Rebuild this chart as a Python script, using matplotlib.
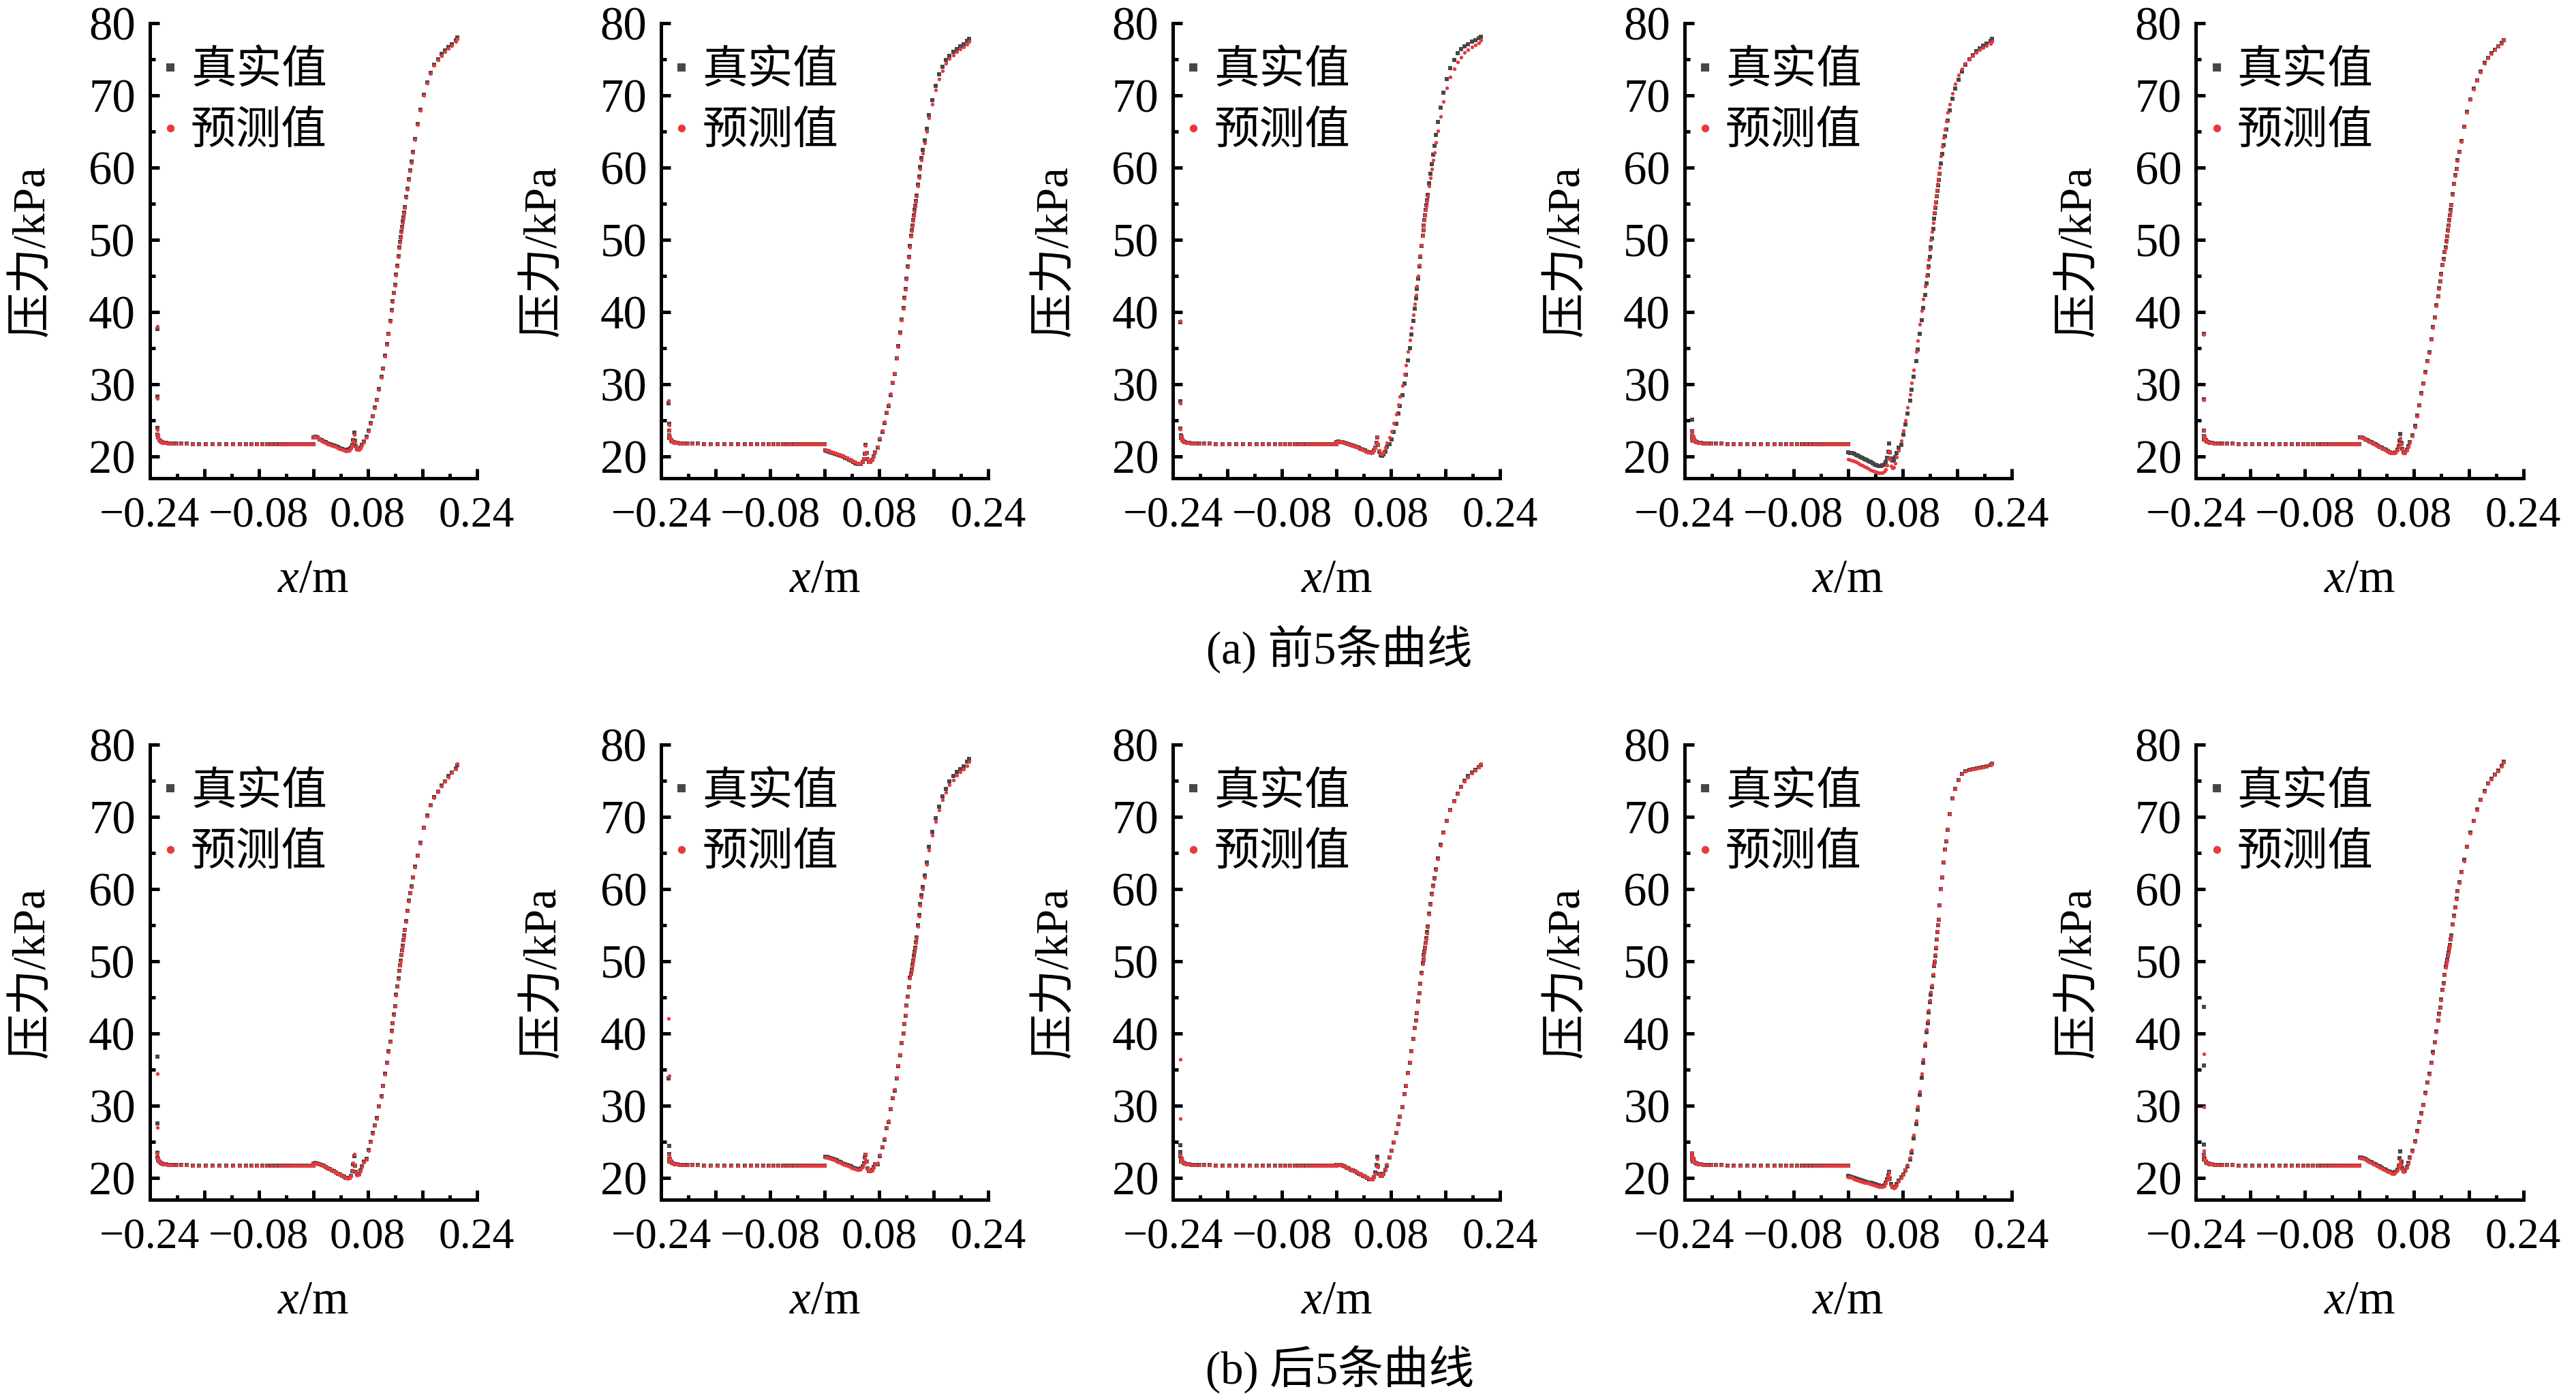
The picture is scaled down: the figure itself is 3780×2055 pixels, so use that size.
import matplotlib
matplotlib.use("Agg")
import matplotlib.pyplot as plt
from matplotlib.ticker import FixedLocator, FixedFormatter, MultipleLocator

plt.rcParams['font.family'] = ['Liberation Serif', 'Noto Sans CJK SC']
plt.rcParams['mathtext.fontset'] = 'custom'
plt.rcParams['mathtext.it'] = 'Liberation Serif:italic'
plt.rcParams['mathtext.rm'] = 'Liberation Serif'

# ---- data: pressure along x (shared sampling nodes) ----
X_INLET = [-0.2289, -0.2288, -0.2287, -0.2285, -0.2281]
X_FLAT = [-0.2272, -0.2258, -0.2240, -0.2218, -0.2192, -0.2160,
          -0.2120, -0.2070, -0.2010, -0.1940, -0.1860, -0.1770, -0.1675, -0.1575, -0.1475, -0.1375,
          -0.1275, -0.1175, -0.1080, -0.0990, -0.0905, -0.0825, -0.0750, -0.0680, -0.0615, -0.0555,
          -0.0500, -0.0445, -0.0395, -0.0350, -0.0310, -0.0272, -0.0237, -0.0204, -0.0173, -0.0144,
          -0.0117, -0.0092, -0.0068, -0.0045, -0.0022, 0.0000]
X_MID = [0.0002, 0.0030, 0.0060, 0.0090, 0.0120, 0.0150, 0.0180, 0.0210, 0.0240, 0.0270,
         0.0300, 0.0330, 0.0360, 0.0390, 0.0420, 0.0450, 0.0478, 0.0505, 0.0530, 0.0552,
         0.0572, 0.0588, 0.0600, 0.0612, 0.0628, 0.0648, 0.0670, 0.0692, 0.0715, 0.0740]
X_RISE = [0.0779, 0.0811, 0.0844, 0.0876, 0.0908, 0.0934, 0.0967, 0.0999, 0.1022, 0.1054,
          0.1080, 0.1103, 0.1129, 0.1152, 0.1168, 0.1184, 0.1200, 0.1217, 0.1233, 0.1249,
          0.1265, 0.1275, 0.1284, 0.1294, 0.1304, 0.1314, 0.1323, 0.1333, 0.1343, 0.1363,
          0.1382, 0.1401, 0.1421, 0.1440, 0.1463, 0.1492, 0.1531, 0.1573, 0.1622, 0.1674,
          0.1726, 0.1778, 0.1830, 0.1882, 0.1933, 0.1985, 0.2037, 0.2089, 0.2115]
X_NODES = X_INLET + X_FLAT + X_MID + X_RISE

# flat stretch, same reading in every panel
FLAT_Y = [22.6, 22.3, 22.1, 21.95, 21.9, 21.85, 21.8, 21.8, 21.75, 21.75, 21.75,
          21.7, 21.7, 21.7, 21.7, 21.7, 21.7, 21.7, 21.7, 21.7, 21.7,
          21.7, 21.7, 21.7, 21.7, 21.7, 21.7, 21.7, 21.7, 21.7, 21.7,
          21.7, 21.7, 21.7, 21.7, 21.7, 21.7, 21.7, 21.7, 21.7, 21.7, 21.7]

true_1 = [37.6, 28.3, 24.0, 23.0, 22.8] + FLAT_Y + [
    22.6, 22.7, 22.6, 22.4, 22.3, 22.1, 22.0, 21.8, 21.7, 21.6,
    21.5, 21.4, 21.3, 21.15, 21.05, 20.95, 20.9, 20.9, 21.0, 21.2,
    21.6, 22.3, 23.3, 22.2, 21.4, 21.0, 21.0, 21.2, 21.6, 22.1,
    22.7, 23.6, 24.6, 25.6, 26.8, 27.8, 29.3, 31.0, 32.2, 34.0,
    35.6, 37.0, 38.8, 40.3, 41.5, 42.6, 43.8, 45.2, 46.4, 47.7,
    49.0, 49.7, 50.4, 51.1, 51.8, 52.5, 53.1, 53.8, 54.5, 55.9,
    57.1, 58.4, 59.6, 60.8, 62.2, 64.0, 66.0, 68.0, 70.1, 71.8,
    73.1, 74.2, 75.0, 75.7, 76.2, 76.7, 77.1, 77.6, 78.0]
pred_1 = [38.0, 28.0, 23.7, 23.0, 22.8] + FLAT_Y + [
    22.6, 22.7, 22.6, 22.4, 22.2, 22.0, 21.9, 21.7, 21.6, 21.5,
    21.4, 21.3, 21.15, 21.0, 20.9, 20.8, 20.75, 20.75, 20.85, 21.1,
    21.5, 22.2, 23.0, 22.0, 21.3, 20.9, 20.9, 21.1, 21.5, 22.0,
    22.6, 23.5, 24.5, 25.6, 26.7, 27.8, 29.2, 30.9, 32.2, 33.9,
    35.5, 37.0, 38.7, 40.2, 41.4, 42.6, 43.7, 45.1, 46.3, 47.6,
    48.9, 49.6, 50.3, 51.0, 51.7, 52.4, 53.0, 53.7, 54.4, 55.8,
    57.0, 58.3, 59.5, 60.7, 62.1, 63.9, 65.9, 67.9, 70.0, 71.7,
    73.0, 74.1, 74.9, 75.5, 76.0, 76.5, 76.9, 77.4, 77.8]

true_2 = [27.4, 24.5, 23.6, 22.9, 22.5] + FLAT_Y + [
    20.8, 20.75, 20.7, 20.6, 20.5, 20.4, 20.3, 20.2, 20.1, 20.0,
    19.85, 19.7, 19.55, 19.4, 19.25, 19.1, 19.0, 18.95, 19.0, 19.2,
    19.6, 20.4, 21.6, 20.5, 19.6, 19.2, 19.2, 19.5, 20.0, 20.6,
    21.2, 22.4, 23.4, 24.6, 26.0, 27.0, 28.5, 30.2, 31.4, 33.6,
    35.3, 37.2, 39.0, 40.6, 42.0, 43.2, 44.6, 46.3, 47.6, 49.1,
    50.6, 51.3, 52.0, 52.7, 53.4, 54.1, 54.7, 55.4, 56.1, 57.6,
    58.8, 60.1, 61.3, 62.4, 63.8, 65.4, 67.3, 69.3, 71.3, 72.9,
    74.0, 74.9, 75.5, 76.0, 76.4, 76.8, 77.1, 77.5, 77.8]
pred_2 = [27.7, 24.3, 23.6, 22.9, 22.5] + FLAT_Y + [
    20.9, 20.85, 20.8, 20.7, 20.6, 20.5, 20.4, 20.3, 20.2, 20.1,
    19.95, 19.8, 19.65, 19.5, 19.35, 19.2, 19.1, 19.05, 19.1, 19.3,
    19.7, 20.5, 21.5, 20.5, 19.6, 19.2, 19.2, 19.5, 20.0, 20.6,
    21.3, 22.5, 23.6, 24.8, 26.1, 27.2, 28.7, 30.3, 31.5, 33.6,
    35.2, 37.1, 38.9, 40.5, 41.9, 43.1, 44.5, 46.2, 47.5, 49.0,
    50.5, 51.2, 51.9, 52.6, 53.3, 54.0, 54.6, 55.3, 56.0, 57.4,
    58.6, 59.8, 61.0, 62.0, 63.4, 65.0, 66.9, 68.8, 70.7, 72.3,
    73.4, 74.4, 75.1, 75.6, 76.0, 76.4, 76.7, 77.1, 77.4]

true_3 = [38.6, 27.6, 23.9, 22.9, 22.5] + FLAT_Y + [
    22.0, 22.05, 22.0, 21.95, 21.9, 21.8, 21.7, 21.6, 21.5, 21.4,
    21.3, 21.2, 21.05, 20.95, 20.8, 20.7, 20.6, 20.55, 20.6, 20.8,
    21.2, 21.9, 22.6, 21.6, 20.7, 20.2, 20.1, 20.3, 20.7, 21.3,
    21.7, 22.4, 23.4, 24.5, 25.9, 27.0, 28.5, 30.1, 31.3, 33.3,
    35.0, 36.9, 38.8, 40.5, 41.9, 43.2, 44.6, 46.3, 47.6, 49.1,
    50.6, 51.3, 52.0, 52.7, 53.4, 54.1, 54.8, 55.5, 56.2, 57.8,
    59.1, 60.5, 61.8, 63.0, 64.5, 66.3, 68.3, 70.4, 72.3, 73.8,
    74.9, 75.8, 76.4, 76.8, 77.1, 77.4, 77.6, 77.9, 78.1]
pred_3 = [38.8, 27.4, 23.8, 22.8, 22.5] + FLAT_Y + [
    22.0, 22.1, 22.05, 22.0, 21.9, 21.8, 21.7, 21.6, 21.5, 21.4,
    21.3, 21.15, 21.0, 20.9, 20.75, 20.65, 20.55, 20.5, 20.55, 20.8,
    21.2, 21.9, 22.7, 21.7, 20.8, 20.4, 20.4, 20.7, 21.2, 21.9,
    22.6, 23.5, 24.6, 25.8, 27.2, 28.3, 29.8, 31.4, 32.6, 34.5,
    36.1, 37.8, 39.6, 41.1, 42.4, 43.6, 45.0, 46.5, 47.8, 49.2,
    50.6, 51.3, 52.0, 52.7, 53.4, 54.1, 54.7, 55.4, 56.0, 57.4,
    58.6, 59.8, 61.0, 62.1, 63.5, 65.1, 67.1, 69.1, 71.0, 72.5,
    73.7, 74.6, 75.3, 75.9, 76.3, 76.7, 77.0, 77.3, 77.6]

true_4 = [25.1, 23.5, 22.8, 22.4, 22.2] + FLAT_Y + [
    20.6, 20.5, 20.45, 20.35, 20.2, 20.1, 19.95, 19.8, 19.65, 19.5,
    19.35, 19.2, 19.05, 18.9, 18.8, 18.7, 18.7, 18.75, 18.9, 19.2,
    19.8, 20.7, 21.8, 20.6, 19.7, 19.4, 19.5, 19.9, 20.5, 21.2,
    21.6, 23.0, 24.4, 25.9, 27.7, 29.2, 31.0, 33.2, 34.8, 37.0,
    38.9, 40.6, 42.4, 44.0, 45.1, 46.3, 47.6, 49.0, 50.2, 51.5,
    52.9, 53.7, 54.4, 55.2, 56.0, 56.8, 57.5, 58.3, 59.1, 60.6,
    61.9, 63.1, 64.3, 65.3, 66.5, 67.9, 69.5, 70.9, 72.2, 73.3,
    74.2, 75.0, 75.6, 76.1, 76.5, 76.9, 77.2, 77.5, 77.8]
pred_4 = [23.5, 23.3, 22.8, 22.4, 22.2] + FLAT_Y + [
    19.6, 19.5, 19.45, 19.35, 19.2, 19.05, 18.9, 18.75, 18.6, 18.45,
    18.3, 18.15, 18.0, 17.9, 17.8, 17.7, 17.7, 17.75, 17.9, 18.2,
    18.8, 19.7, 20.7, 19.6, 18.7, 18.4, 18.5, 19.1, 19.9, 20.8,
    22.2, 23.6, 25.0, 26.8, 28.6, 30.2, 32.0, 34.5, 36.0, 38.3,
    40.2, 41.8, 43.6, 45.0, 46.1, 47.3, 48.7, 50.0, 51.1, 52.4,
    53.8, 54.6, 55.3, 56.1, 56.9, 57.7, 58.4, 59.2, 60.0, 61.6,
    62.9, 64.1, 65.3, 66.4, 67.6, 68.8, 70.3, 71.6, 72.8, 73.7,
    74.4, 75.0, 75.5, 75.9, 76.3, 76.6, 76.9, 77.2, 77.4]

true_5 = [37.0, 27.9, 23.6, 22.8, 22.4] + FLAT_Y + [
    22.6, 22.6, 22.5, 22.4, 22.25, 22.1, 21.95, 21.8, 21.65, 21.5,
    21.35, 21.2, 21.05, 20.9, 20.75, 20.6, 20.5, 20.5, 20.6, 20.9,
    21.4, 22.2, 23.1, 21.9, 21.0, 20.6, 20.6, 20.9, 21.4, 22.0,
    22.9, 24.2, 25.7, 27.1, 28.8, 30.1, 31.7, 33.2, 34.4, 36.2,
    37.9, 39.2, 40.9, 42.2, 43.3, 44.2, 45.3, 46.5, 47.4, 48.3,
    49.0, 49.8, 50.5, 51.3, 52.0, 52.7, 53.4, 54.1, 54.8, 56.3,
    57.7, 59.0, 59.8, 61.0, 62.2, 63.7, 65.7, 67.7, 69.4, 70.9,
    72.1, 73.3, 74.5, 75.2, 75.8, 76.3, 76.8, 77.3, 77.6]
pred_5 = [36.9, 27.8, 23.6, 22.8, 22.4] + FLAT_Y + [
    22.6, 22.6, 22.5, 22.35, 22.2, 22.05, 21.9, 21.75, 21.6, 21.45,
    21.3, 21.15, 21.0, 20.85, 20.7, 20.55, 20.45, 20.45, 20.55, 20.8,
    21.3, 21.9, 22.5, 21.7, 20.9, 20.5, 20.5, 20.8, 21.3, 21.9,
    22.8, 24.1, 25.6, 27.1, 28.7, 30.1, 31.6, 33.2, 34.3, 36.2,
    37.8, 39.2, 40.8, 42.2, 43.2, 44.2, 45.2, 46.5, 47.3, 48.3,
    48.9, 49.7, 50.5, 51.2, 52.0, 52.6, 53.4, 54.0, 54.8, 56.2,
    57.7, 58.9, 59.8, 60.9, 62.2, 63.6, 65.7, 67.6, 69.4, 70.8,
    72.1, 73.2, 74.4, 75.2, 75.7, 76.3, 76.8, 77.2, 77.6]

true_6 = [36.8, 27.5, 23.5, 22.8, 22.4] + FLAT_Y + [
    22.0, 22.05, 22.0, 21.9, 21.8, 21.65, 21.5, 21.35, 21.2, 21.05,
    20.9, 20.75, 20.6, 20.45, 20.3, 20.15, 20.0, 19.95, 20.0, 20.3,
    20.9, 21.9, 23.0, 21.7, 20.8, 20.5, 20.6, 21.0, 21.6, 22.3,
    22.6, 23.9, 25.0, 26.2, 27.3, 28.3, 29.9, 31.3, 32.7, 34.4,
    35.9, 37.5, 38.9, 40.4, 41.4, 42.6, 43.8, 45.4, 46.5, 47.6,
    48.7, 49.4, 50.1, 50.8, 51.5, 52.2, 52.9, 53.6, 54.3, 55.6,
    57.0, 58.4, 59.4, 60.4, 61.6, 63.1, 64.6, 66.4, 68.5, 70.2,
    71.6, 72.7, 73.5, 74.3, 74.9, 75.6, 76.1, 76.7, 77.2]
pred_6 = [34.4, 27.0, 23.4, 22.7, 22.4] + FLAT_Y + [
    22.0, 22.05, 22.0, 21.9, 21.8, 21.65, 21.5, 21.35, 21.2, 21.05,
    20.9, 20.75, 20.6, 20.45, 20.3, 20.15, 20.0, 19.9, 19.95, 20.3,
    21.0, 22.1, 23.3, 21.8, 20.8, 20.4, 20.5, 20.9, 21.5, 22.2,
    22.5, 23.8, 25.0, 26.1, 27.3, 28.2, 29.9, 31.2, 32.7, 34.3,
    35.9, 37.4, 38.9, 40.3, 41.4, 42.5, 43.8, 45.3, 46.5, 47.5,
    48.7, 49.4, 50.0, 50.8, 51.5, 52.1, 52.9, 53.5, 54.3, 55.5,
    57.0, 58.3, 59.4, 60.3, 61.6, 63.0, 64.6, 66.3, 68.5, 70.1,
    71.6, 72.6, 73.5, 74.2, 74.9, 75.5, 76.1, 76.6, 77.3]

true_7 = [33.8, 24.4, 23.3, 22.6, 22.3] + FLAT_Y + [
    22.9, 22.9, 22.8, 22.7, 22.6, 22.5, 22.4, 22.3, 22.15, 22.0,
    21.9, 21.8, 21.65, 21.55, 21.45, 21.35, 21.25, 21.2, 21.3, 21.6,
    22.1, 22.8, 23.2, 22.3, 21.3, 20.95, 20.95, 21.1, 21.5, 21.9,
    21.9, 23.0, 24.2, 25.3, 26.9, 27.7, 29.5, 31.0, 32.1, 33.8,
    35.5, 37.0, 38.7, 40.0, 41.3, 42.4, 43.9, 45.1, 46.4, 47.7,
    48.3, 48.9, 49.5, 50.1, 50.7, 51.3, 51.9, 52.6, 53.3, 55.0,
    56.4, 57.9, 59.1, 60.3, 61.9, 63.7, 65.8, 67.9, 69.8, 71.4,
    72.8, 73.9, 74.9, 75.6, 76.2, 76.6, 77.0, 77.6, 78.0]
pred_7 = [42.1, 34.1, 23.2, 22.6, 22.3] + FLAT_Y + [
    22.8, 22.8, 22.7, 22.6, 22.5, 22.4, 22.3, 22.2, 22.05, 21.9,
    21.8, 21.7, 21.55, 21.45, 21.35, 21.25, 21.15, 21.1, 21.2, 21.5,
    22.0, 22.7, 23.3, 22.3, 21.3, 20.9, 20.9, 21.05, 21.45, 21.9,
    22.1, 23.2, 24.3, 25.5, 27.0, 27.9, 29.6, 31.1, 32.3, 33.9,
    35.6, 37.1, 38.8, 40.1, 41.4, 42.5, 43.9, 45.1, 46.4, 47.6,
    48.2, 48.8, 49.4, 50.0, 50.6, 51.2, 51.8, 52.5, 53.2, 54.8,
    56.2, 57.7, 58.9, 60.0, 61.6, 63.4, 65.4, 67.4, 69.3, 70.9,
    72.3, 73.4, 74.4, 75.1, 75.7, 76.2, 76.6, 77.1, 77.6]

true_8 = [24.5, 23.6, 23.0, 22.6, 22.3] + FLAT_Y + [
    21.8, 21.8, 21.75, 21.65, 21.55, 21.4, 21.3, 21.15, 21.0, 20.9,
    20.75, 20.6, 20.45, 20.3, 20.15, 20.0, 19.85, 19.8, 19.85, 20.1,
    20.7, 21.8, 22.9, 21.6, 20.6, 20.3, 20.3, 20.6, 21.1, 21.7,
    22.8, 23.8, 24.9, 26.2, 27.4, 28.5, 29.8, 31.6, 32.7, 34.5,
    35.9, 37.5, 39.2, 40.7, 41.8, 42.8, 44.4, 45.6, 46.9, 48.4,
    49.7, 50.2, 50.8, 51.3, 51.9, 52.5, 53.2, 54.0, 54.8, 56.6,
    57.9, 59.3, 60.5, 61.5, 62.7, 64.2, 66.1, 67.8, 69.4, 70.9,
    72.2, 73.2, 74.1, 75.0, 75.6, 76.1, 76.5, 76.9, 77.2]
pred_8 = [36.4, 28.2, 23.2, 22.6, 22.3] + FLAT_Y + [
    21.8, 21.85, 21.8, 21.7, 21.6, 21.45, 21.35, 21.2, 21.05, 20.95,
    20.8, 20.65, 20.5, 20.35, 20.2, 20.05, 19.9, 19.8, 19.85, 20.1,
    20.6, 21.6, 22.6, 21.5, 20.6, 20.3, 20.3, 20.6, 21.2, 21.9,
    22.9, 23.9, 25.0, 26.3, 27.5, 28.6, 29.9, 31.6, 32.8, 34.5,
    36.0, 37.5, 39.2, 40.7, 41.8, 42.9, 44.4, 45.6, 46.9, 48.3,
    49.6, 50.2, 50.7, 51.3, 51.9, 52.5, 53.1, 53.9, 54.7, 56.5,
    57.8, 59.2, 60.4, 61.4, 62.6, 64.1, 66.0, 67.8, 69.4, 70.9,
    72.2, 73.2, 74.1, 74.9, 75.5, 76.0, 76.4, 76.9, 77.3]

true_9 = [23.4, 23.0, 22.7, 22.5, 22.3] + FLAT_Y + [
    20.3, 20.2, 20.1, 20.0, 19.9, 19.8, 19.7, 19.6, 19.5, 19.45,
    19.35, 19.3, 19.2, 19.1, 19.05, 18.95, 18.9, 18.9, 19.0, 19.3,
    19.8, 20.4, 20.8, 19.9, 19.1, 18.8, 18.7, 18.8, 19.1, 19.6,
    20.1, 20.5, 21.0, 21.6, 22.5, 23.5, 25.5, 27.4, 29.4, 31.5,
    33.9, 35.9, 38.3, 40.2, 41.4, 42.9, 44.3, 45.4, 46.4, 48.0,
    49.3, 49.9, 50.7, 51.8, 53.0, 54.0, 55.0, 55.7, 57.7, 60.0,
    61.6, 63.7, 65.5, 66.6, 68.2, 70.4, 72.5, 73.9, 75.1, 75.9,
    76.3, 76.5, 76.6, 76.7, 76.8, 76.9, 77.0, 77.2, 77.3]
pred_9 = [23.5, 23.0, 22.7, 22.5, 22.3] + FLAT_Y + [
    20.1, 20.05, 19.95, 19.85, 19.75, 19.65, 19.55, 19.45, 19.35, 19.3,
    19.2, 19.1, 19.05, 18.95, 18.9, 18.8, 18.75, 18.75, 18.85, 19.2,
    19.7, 20.3, 20.7, 19.8, 19.0, 18.7, 18.6, 18.7, 19.0, 19.5,
    20.0, 20.5, 21.1, 21.8, 22.8, 23.9, 25.9, 27.9, 29.9, 32.0,
    34.4, 36.4, 38.7, 40.6, 41.8, 43.2, 44.6, 45.7, 46.7, 48.2,
    49.5, 50.1, 50.9, 52.0, 53.1, 54.1, 55.1, 55.8, 57.7, 60.0,
    61.7, 63.8, 65.5, 66.7, 68.3, 70.4, 72.5, 73.9, 75.1, 75.9,
    76.3, 76.5, 76.6, 76.7, 76.8, 76.9, 77.0, 77.2, 77.3]

true_10 = [43.7, 35.6, 24.6, 23.2, 22.5] + FLAT_Y + [
    22.8, 22.8, 22.7, 22.6, 22.45, 22.3, 22.15, 22.0, 21.85, 21.7,
    21.55, 21.4, 21.25, 21.1, 20.95, 20.8, 20.7, 20.7, 20.8, 21.1,
    21.7, 22.7, 23.7, 22.3, 21.3, 20.9, 21.0, 21.5, 22.1, 22.8,
    23.8, 25.1, 26.5, 27.7, 29.0, 30.1, 31.8, 33.2, 34.4, 35.9,
    37.4, 38.8, 40.3, 41.8, 42.7, 43.6, 44.7, 46.0, 47.0, 48.1,
    49.2, 49.7, 50.2, 50.7, 51.2, 51.8, 52.3, 53.0, 53.6, 55.1,
    56.3, 57.4, 58.7, 59.7, 60.9, 62.3, 64.0, 65.8, 67.8, 69.4,
    71.0, 72.3, 73.6, 74.6, 75.3, 75.8, 76.4, 77.1, 77.6]
pred_10 = [37.2, 29.8, 23.8, 23.2, 22.5] + FLAT_Y + [
    22.7, 22.7, 22.6, 22.5, 22.35, 22.2, 22.05, 21.9, 21.75, 21.6,
    21.45, 21.3, 21.15, 21.0, 20.85, 20.7, 20.6, 20.6, 20.7, 21.0,
    21.5, 22.0, 22.4, 21.8, 21.1, 20.8, 20.9, 21.4, 22.0, 22.7,
    23.7, 25.0, 26.4, 27.7, 28.9, 30.1, 31.7, 33.2, 34.3, 35.9,
    37.3, 38.8, 40.2, 41.8, 42.6, 43.6, 44.6, 46.0, 46.9, 48.1,
    49.1, 49.7, 50.1, 50.7, 51.1, 51.8, 52.2, 53.0, 53.5, 55.1,
    56.2, 57.4, 58.6, 59.7, 60.8, 62.3, 63.9, 65.8, 67.7, 69.4,
    70.9, 72.3, 73.5, 74.6, 75.2, 75.8, 76.3, 77.0, 77.5]

TRUE = [true_1, true_2, true_3, true_4, true_5, true_6, true_7, true_8, true_9, true_10]
PRED = [pred_1, pred_2, pred_3, pred_4, pred_5, pred_6, pred_7, pred_8, pred_9, pred_10]

XTICKS = [-0.24, -0.16, -0.08, 0.0, 0.08, 0.16, 0.24]
XTICK_LABELS = ['\u22120.24', '', '\u22120.08', '', '0.08', '', '0.24']
YTICKS = [20, 30, 40, 50, 60, 70, 80]
CAPTIONS = ['(a) 前5条曲线', '(b) 后5条曲线']

GREY = '#474747'
RED = '#e8393d'
FS = 16

fig = plt.figure(figsize=(12.6, 6.85), dpi=300)

for i in range(10):
    row, col = divmod(i, 5)
    left = 0.0581 + col * 0.1986
    bottom = 0.6585 if row == 0 else 0.1432
    ax = fig.add_axes([left, bottom, 0.127, 0.325])

    ax.plot(X_NODES, TRUE[i], linestyle='none', marker='s', ms=1.4, mew=0,
            color=GREY, label='真实值')
    ax.plot(X_NODES, PRED[i], linestyle='none', marker='o', ms=1.3, mew=0,
            color=RED, label='预测值')

    ax.set_xlim(-0.24, 0.24)
    ax.set_ylim(17, 80)
    for s in ['top', 'right']:
        ax.spines[s].set_visible(False)
    for s in ['left', 'bottom']:
        ax.spines[s].set_linewidth(1.2)

    ax.xaxis.set_major_locator(FixedLocator(XTICKS))
    ax.xaxis.set_major_formatter(FixedFormatter(XTICK_LABELS))
    ax.xaxis.set_minor_locator(MultipleLocator(0.04))
    ax.yaxis.set_major_locator(FixedLocator(YTICKS))
    ax.yaxis.set_minor_locator(MultipleLocator(5))
    ax.tick_params(which='both', direction='in', width=1.2)
    ax.tick_params(which='major', length=3.4, pad=5)
    ax.tick_params(axis='y', labelsize=16.5)
    ax.tick_params(axis='x', which='major', pad=6.5, labelsize=15.3)
    ax.tick_params(which='minor', length=1.8)

    ax.set_xlabel('$x$/m', fontsize=16.5, labelpad=8)
    ax.set_ylabel('压力/kPa', fontsize=FS, labelpad=12.5)

    ax.legend(loc='upper left', bbox_to_anchor=(0.028, 0.94), frameon=False,
              fontsize=FS, markerscale=2.1, handlelength=0.5,
              handletextpad=0.2, labelspacing=0.42, borderpad=0, borderaxespad=0)

fig.text(0.52, 0.5364, CAPTIONS[0], ha='center', va='center', fontsize=FS)
fig.text(0.52, 0.0223, CAPTIONS[1], ha='center', va='center', fontsize=FS)

fig.savefig('out.png', dpi=300)
